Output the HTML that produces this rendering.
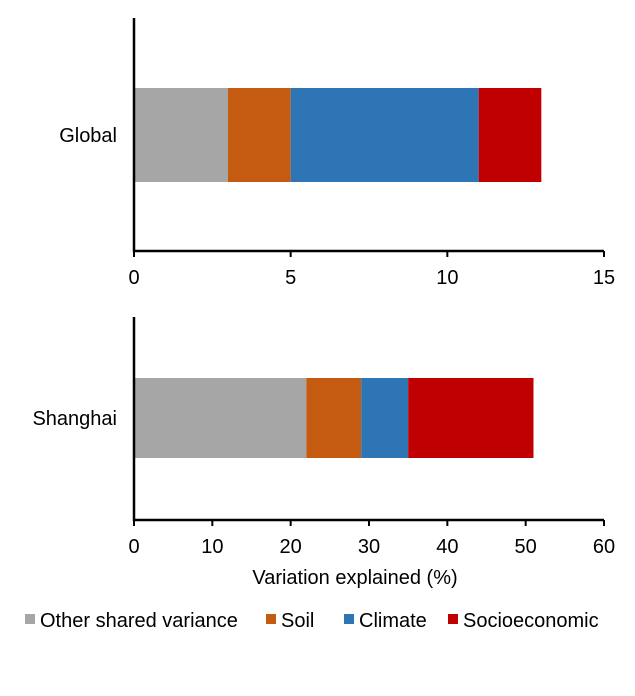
<!DOCTYPE html>
<html><head><meta charset="utf-8"><style>
body{margin:0;background:#fff;}
svg text{font-family:"Liberation Sans",Arial,sans-serif;fill:#000;}
</style></head><body>
<svg id="c" width="635" height="691"></svg>
<script>
const series=["Other shared variance","Soil","Climate","Socioeconomic"];
const colors=["#a6a6a6","#c55a11","#2e75b6","#c00000"];
const globalValues=[3,2,6,2];
const shanghaiValues=[22,7,6,16];
const globalTicks=[0,5,10,15];
const shanghaiTicks=[0,10,20,30,40,50,60];
const svg=document.getElementById('c');
const NS='http://www.w3.org/2000/svg';
function mk(t,a,p){const e=document.createElementNS(NS,t);for(const k in a)e.setAttribute(k,a[k]);(p||svg).appendChild(e);return e;}
function panel(name,label,vals,ticks,yTop,yAxis,barTop,barBot){
  const x0=134,x1=604,max=ticks[ticks.length-1];
  const sx=v=>x0+(x1-x0)*v/max;
  const g=mk('g',{});
  
  
  let acc=0;
  vals.forEach((v,i)=>{
    const r=mk('rect',{x:sx(acc),y:barTop,width:sx(acc+v)-sx(acc),height:barBot-barTop,fill:colors[i]},g);
    
    
    acc+=v;
  });
  const ya=mk('line',{x1:x0,y1:yTop,x2:x0,y2:yAxis+1,stroke:'#000','stroke-width':2.5},g);
  
  
  const xa=mk('line',{x1:x0-1,y1:yAxis,x2:x1,y2:yAxis,stroke:'#000','stroke-width':2.5},g);
  
  
  ticks.forEach(t=>{
    mk('line',{x1:sx(t),y1:yAxis,x2:sx(t),y2:yAxis+6,stroke:'#000','stroke-width':2},g);
    const tx=mk('text',{x:sx(t),y:yAxis+33,'text-anchor':'middle','font-size':20},g);
    tx.textContent=t;
    
    
  });
  const l=mk('text',{x:117,y:(barTop+barBot)/2+7,'text-anchor':'end','font-size':20},g);
  l.textContent=label;
  
  
}
panel('global','Global',globalValues,globalTicks,18,251,88,182);
panel('shanghai','Shanghai',shanghaiValues,shanghaiTicks,317,520,378,458);
const xt=mk('text',{x:355,y:584,'text-anchor':'middle','font-size':20});
xt.textContent='Variation explained (%)';


const lx=[25,266,344,448];
series.forEach((s,i)=>{
  const g=mk('g',{});
  
  
  mk('rect',{x:lx[i],y:614,width:10,height:10,fill:colors[i]},g);
  const t=mk('text',{x:lx[i]+15,y:627,'font-size':20},g);
  t.textContent=s;
});
</script>
</body></html>
